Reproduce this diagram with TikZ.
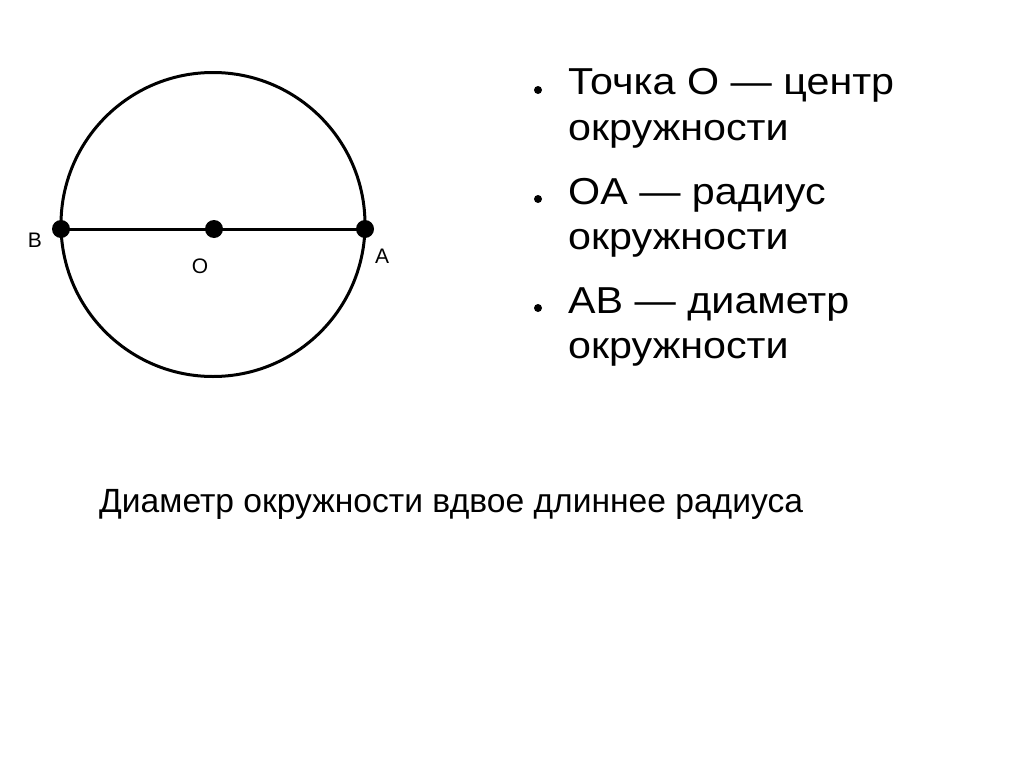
\documentclass[tikz,border=0pt]{standalone}
\usepackage{fontspec}
\setmainfont{Liberation Sans}
\begin{document}
\begin{tikzpicture}[x=1pt,y=-1pt,
  dot/.style={circle,fill=black,inner sep=0pt,minimum size=18pt},
  lbl/.style={inner sep=0pt,font=\fontsize{21}{21}\selectfont},
  bul/.style={circle,fill=black,inner sep=0pt,minimum size=8pt},
  item/.style={anchor=base west,inner sep=0pt,xscale=1.1,font=\fontsize{37.5}{37.5}\selectfont}]
\useasboundingbox (0,0) rectangle (1024,768);
\coordinate (C) at (213,224.5);
\draw[line width=3pt] (C) circle[radius=152];
\node[dot] (B) at (61,229) {};
\node[dot] (O) at (214,229) {};
\node[dot] (A) at (365,229) {};
\draw[line width=3pt] (B.center) -- (A.center);
\node[lbl] (lB) at (35,240) {B};
\node[lbl] (lO) at (200,266) {O};
\node[lbl] (lA) at (382,256) {A};
\node[bul] (b1) at (538,90) {};
\node[bul] (b2) at (538,199) {};
\node[bul] (b3) at (538,308) {};
\node[item] (t1) at (568,94) {Точка O — центр};
\node[item] (t1b) at (568,140) {окружности};
\node[item] (t2) at (568,204) {OA — радиус};
\node[item] (t2b) at (568,249) {окружности};
\node[item] (t3) at (568,313) {AB — диаметр};
\node[item] (t3b) at (568,358) {окружности};
\node[anchor=base west,inner sep=0pt,font=\fontsize{33.6}{33.6}\selectfont] (bot) at (99,512) {Диаметр окружности вдвое длиннее радиуса};
\end{tikzpicture}
\end{document}
